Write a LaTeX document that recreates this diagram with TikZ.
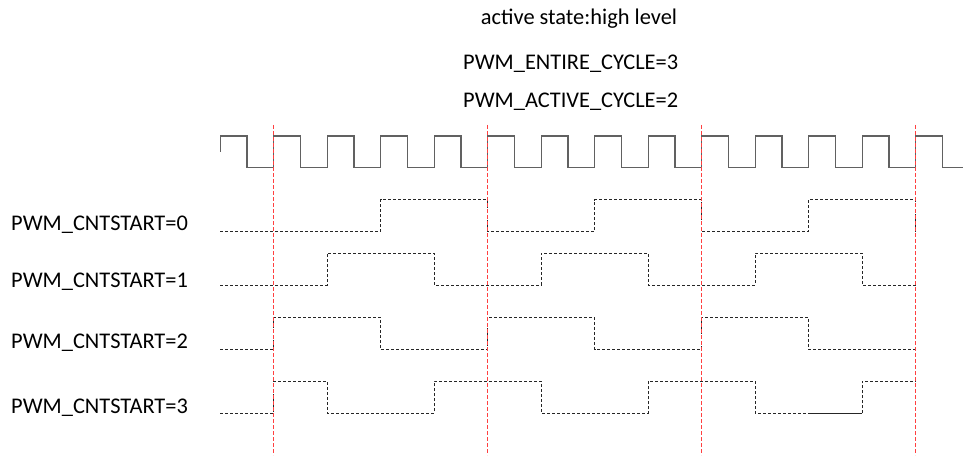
\documentclass[tikz,border=0pt]{standalone}
\usepackage{fontspec}
\setmainfont{Carlito}
\begin{document}
\begin{tikzpicture}[x=1pt,y=-1pt,
  lbl/.style={anchor=base west,inner sep=0pt,font=\fontsize{22.4}{26}\selectfont},
  clk/.style={draw=black!62,line width=1.3pt},
  wave/.style={draw=black!85,line width=1pt,dash pattern=on 3pt off 2pt},
  solidwave/.style={draw=black!85,line width=1pt},
  redline/.style={draw=red!75,line width=1.5pt,dash pattern=on 4pt off 2pt}]
\useasboundingbox (0,0) rectangle (963,457);
% titles
\node[lbl] (t1) at (480.7,25) {active state:high level};
\node[lbl] (t2) at (463,70) {PWM\_ENTIRE\_CYCLE=3};
\node[lbl] (t3) at (463,108) {PWM\_ACTIVE\_CYCLE=2};
% row labels
\node[lbl] (l0) at (11,230.5) {PWM\_CNTSTART=0};
\node[lbl] (l1) at (11,287.5) {PWM\_CNTSTART=1};
\node[lbl] (l2) at (11,348) {PWM\_CNTSTART=2};
\node[lbl] (l3) at (11,413) {PWM\_CNTSTART=3};
% clock
\draw[clk] (220.2,152) -- (220.2,136)
  \foreach \k in {0,...,12} { -- ++(26.75,0) -- ++(0,31.5) -- ++(26.75,0) -- ++(0,-31.5) }
  -- ++(26.75,0) -- ++(0,31.5) -- ++(20.25,0);
% row 0
\draw[wave] (220.2,231.7) -- (380.7,231.7) -- (380.7,199.7) -- (487.7,199.7) -- (487.7,231.7)
  -- (594.7,231.7) -- (594.7,199.7) -- (701.7,199.7) -- (701.7,231.7)
  -- (808.7,231.7) -- (808.7,199.7) -- (915.7,199.7) -- (915.7,231.7);
% row 1
\draw[wave] (220.2,285) -- (327.2,285) -- (327.2,253) -- (434.2,253) -- (434.2,285)
  -- (541.2,285) -- (541.2,253) -- (648.2,253) -- (648.2,285)
  -- (755.2,285) -- (755.2,253) -- (862.2,253) -- (862.2,285) -- (915.7,285);
% row 2
\draw[wave] (220.2,349.3) -- (273.7,349.3) -- (273.7,317.3) -- (380.7,317.3) -- (380.7,349.3)
  -- (487.7,349.3) -- (487.7,317.3) -- (594.7,317.3) -- (594.7,349.3)
  -- (701.7,349.3) -- (701.7,317.3) -- (808.7,317.3) -- (808.7,349.3) -- (915.7,349.3);
% row 3
\draw[wave] (220.2,413.3) -- (273.7,413.3) -- (273.7,381.3) -- (327.2,381.3) -- (327.2,413.3)
  -- (434.2,413.3) -- (434.2,381.3) -- (541.2,381.3) -- (541.2,413.3)
  -- (648.2,413.3) -- (648.2,381.3) -- (755.2,381.3) -- (755.2,413.3)
  -- (808.7,413.3);
\draw[solidwave] (808.7,413.3) -- (862.2,413.3);
\draw[wave] (862.2,413.3) -- (862.2,381.3) -- (915.7,381.3);
% red markers
\draw[redline] (273.7,125) -- (273.7,455);
\draw[redline] (487.7,125) -- (487.7,455);
\draw[redline] (701.7,125) -- (701.7,455);
\draw[redline] (915.7,125) -- (915.7,455);
\end{tikzpicture}
\end{document}
